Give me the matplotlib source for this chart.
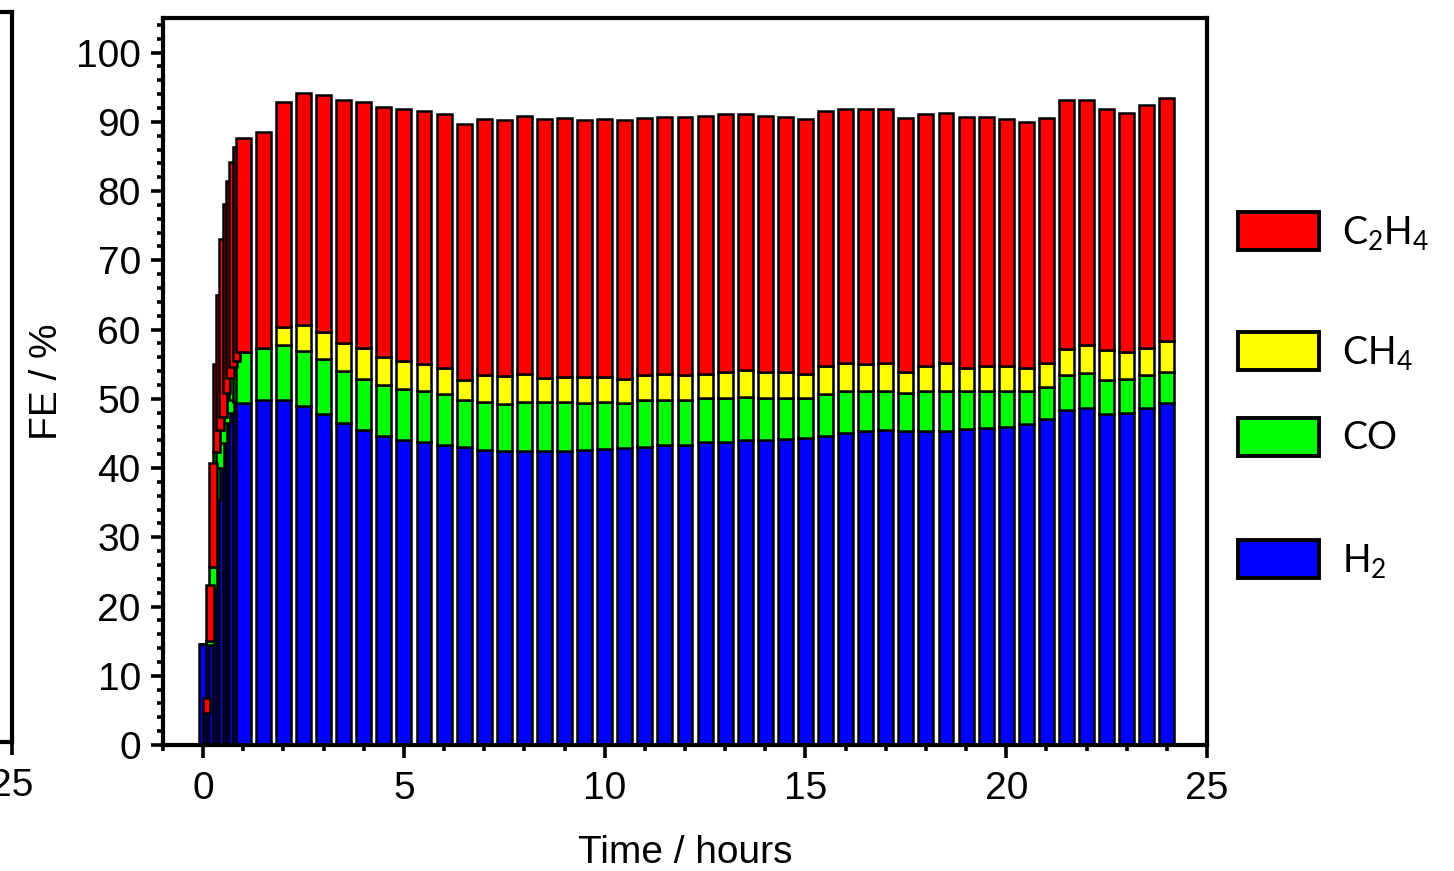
import numpy as np
import matplotlib
matplotlib.use("Agg")
import matplotlib.pyplot as plt
import matplotlib.patches as mpatches

plt.rcParams['font.family'] = ['Liberation Sans', 'DejaVu Sans']

# =========================
# DATA (FE % per product)
# =========================
time_h = [0.0, 0.083, 0.167, 0.25, 0.333, 0.417, 0.5, 0.583, 0.667, 0.75, 0.833,
          1.0, 1.5, 2.0, 2.5, 3.0, 3.5, 4.0, 4.5, 5.0, 5.5, 6.0, 6.5, 7.0, 7.5,
          8.0, 8.5, 9.0, 9.5, 10.0, 10.5, 11.0, 11.5, 12.0, 12.5, 13.0, 13.5,
          14.0, 14.5, 15.0, 15.5, 16.0, 16.5, 17.0, 17.5, 18.0, 18.5, 19.0,
          19.5, 20.0, 20.5, 21.0, 21.5, 22.0, 22.5, 23.0, 23.5, 24.0]

fe_h2 = [14.6, 4.6, 14.5, 22.5, 35.4, 40.0, 43.6, 46.5, 48.0, 49.9, 49.5,
         49.4, 49.9, 49.9, 49.0, 47.8, 46.5, 45.5, 44.6, 44.1, 43.7, 43.3, 43.0,
         42.6, 42.5, 42.5, 42.5, 42.5, 42.6, 42.7, 42.9, 43.1, 43.3, 43.4, 43.7,
         43.8, 44.1, 44.0, 44.2, 44.4, 44.7, 45.0, 45.3, 45.5, 45.3, 45.4, 45.4,
         45.7, 45.8, 45.9, 46.3, 47.1, 48.4, 48.7, 47.8, 47.9, 48.7, 49.4]

fe_co = [0.0, 0.0, 0.5, 3.2, 6.9, 5.5, 3.8, 4.4, 5.0, 4.7, 6.0,
         7.4, 7.4, 7.8, 7.9, 7.9, 7.5, 7.3, 7.4, 7.3, 7.4, 7.4, 6.9,
         6.9, 6.8, 7.1, 7.0, 7.0, 6.8, 6.8, 6.5, 6.8, 6.5, 6.5, 6.4,
         6.3, 6.1, 6.1, 5.9, 5.7, 6.0, 6.1, 5.8, 5.7, 5.6, 5.7, 5.7,
         5.4, 5.3, 5.2, 4.9, 4.6, 5.0, 5.0, 4.9, 4.9, 4.8, 4.5]

fe_ch4 = [0.0, 0.0, 0.0, 0.0, 0.0, 0.0, 0.0, 0.0, 0.0, 0.0, 0.0,
          0.0, 0.0, 2.6, 3.8, 3.9, 4.0, 4.5, 4.1, 4.0, 3.9, 3.7, 2.8,
          4.0, 4.0, 4.0, 3.5, 3.7, 3.7, 3.6, 3.5, 3.6, 3.8, 3.6, 3.5,
          3.7, 3.9, 3.8, 3.7, 3.5, 4.1, 4.1, 3.9, 3.9, 3.0, 3.7, 4.1,
          3.3, 3.6, 3.6, 3.2, 3.5, 3.8, 4.1, 4.4, 3.9, 3.9, 4.4]

fe_c2h4 = [0.0, 2.2, 8.1, 15.0, 12.7, 19.5, 25.7, 27.3, 28.5, 29.6, 30.9,
           30.8, 31.3, 32.6, 33.5, 34.3, 35.1, 35.5, 36.0, 36.4, 36.5, 36.8, 37.0,
           36.9, 37.0, 37.3, 37.4, 37.4, 37.1, 37.3, 37.3, 37.1, 37.1, 37.2, 37.3,
           37.3, 37.1, 36.9, 36.9, 36.8, 36.7, 36.7, 36.8, 36.7, 36.6, 36.4, 36.1,
           36.3, 36.0, 35.7, 35.6, 35.3, 35.9, 35.3, 34.8, 34.6, 35.1, 35.1]

labels = ['$\\mathregular{H_2}$', 'CO', '$\\mathregular{CH_4}$', '$\\mathregular{C_2H_4}$']
colors = ['#0000FF', '#00FF00', '#FFFF00', '#FF0000']

t = np.array(time_h)
series = [np.array(fe_h2), np.array(fe_co), np.array(fe_ch4), np.array(fe_c2h4)]
# narrow bars for the 5-min samples in the first hour, wide ones afterwards
widths = np.where(t < 1.0, 0.19, 0.37)

# =========================
# FIGURE
# =========================
fig = plt.figure(figsize=(14.54, 8.71), dpi=100)
ax = fig.add_axes([163 / 1454, 1 - 745 / 871, (1207 - 163) / 1454, (745 - 18) / 871])

bottom = np.zeros_like(t)
for vals, col in zip(series, colors):
    ax.bar(t, vals, width=widths, bottom=bottom, color=col,
           edgecolor='black', linewidth=1.8, align='center')
    bottom = bottom + vals

ax.set_xlim(-1, 25)
ax.set_ylim(0, 105)
ax.set_xticks([0, 5, 10, 15, 20, 25])
ax.set_xticks(np.arange(-1, 25, 1), minor=True)
ax.set_yticks(np.arange(0, 101, 10))
ax.set_yticks(np.arange(0, 105, 2), minor=True)

for s in ax.spines.values():
    s.set_linewidth(3)
ax.tick_params(axis='both', which='major', direction='out', length=9, width=2.6,
               labelsize=28)
ax.tick_params(axis='x', which='major', pad=10)
ax.tick_params(axis='y', which='major', pad=7)
ax.tick_params(axis='both', which='minor', direction='out', length=4.5, width=2.6)

ax.set_xlabel('Time / hours', fontsize=28, labelpad=20)
ax.set_ylabel('FE / %', fontsize=28, labelpad=8)

# legend entries, placed one by one like the original
leg_y = [232, 352, 437, 560]
for col, lab, y in zip(colors[::-1], labels[::-1], leg_y):
    h = mpatches.Patch(facecolor=col, edgecolor='black', linewidth=2.8)
    leg = fig.legend([h], [lab], loc='center left',
                     bbox_to_anchor=(1238 / 1454, 1 - y / 871),
                     frameon=False, borderpad=0, borderaxespad=0,
                     handlelength=2.15, handleheight=1.18, handletextpad=0.62,
                     prop={'family': 'Lato', 'size': 27})

# cut-off edge of the neighbouring panel at the far left
ax0 = fig.add_axes([12 / 1454 - 0.5, 1 - 742 / 871, 0.5, (742 - 12) / 871])
ax0.set_xlim(0, 25)
ax0.set_ylim(0, 1)
ax0.set_xticks([25])
ax0.set_yticks([])
for s in ax0.spines.values():
    s.set_linewidth(3)
ax0.tick_params(axis='x', direction='out', length=9, width=2.6, labelsize=28, pad=10)

fig.savefig('out.png', dpi=100)
